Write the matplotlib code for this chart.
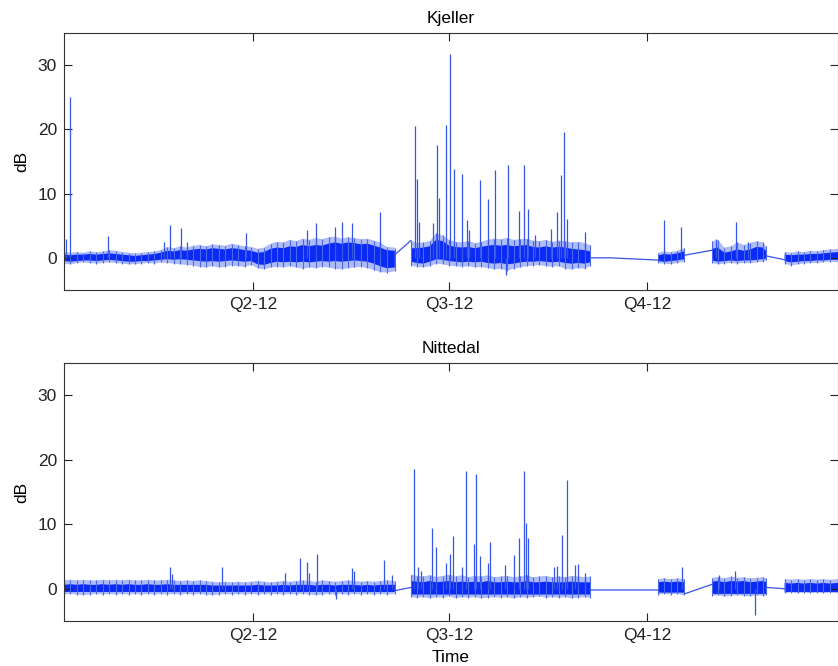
import numpy as np
import matplotlib
matplotlib.use("Agg")
import matplotlib.pyplot as plt

plt.rcParams['font.family'] = ['Liberation Sans', 'DejaVu Sans']

NaN = float('nan')

# x axis: day of year 2012
quarter_days = [91, 182, 274]
quarter_labels = ['Q2-12', 'Q3-12', 'Q4-12']
x_range = [3.0, 362.8]
y_range = [-5, 35]
y_ticks = [0, 10, 20, 30]

# ---------------- Kjeller (top) ----------------
# noise band envelopes, segments separated by NaN
kj_days = [3, 6, 9, 12, 15, 18, 21, 24, 27, 30, 33, 36, 39, 42, 45, 48, 51, 54, 57, 60,
           63, 66, 69, 72, 75, 78, 81, 84, 87, 90, 93, 96, 99, 102, 105, 108, 111, 114,
           117, 120, 123, 126, 129, 132, 135, 138, 141, 144, 147, 150, 153, 156.8, NaN,
           164.3, 167, 170, 173, 176, 179, 182, 185, 188, 191, 194, 197, 200, 203, 206,
           209, 212, 215, 218, 221, 224, 227, 230, 233, 236, 239, 242, 245, 247.6, NaN,
           279.3, 282, 285, 288, 291.4, NaN,
           304.4, 307, 310, 313, 316, 319, 322, 325, 328, 329.5, NaN,
           338, 341, 344, 347, 350, 353, 356, 359, 362.8]
kj_hi_out = [0.9, 0.8, 0.9, 0.8, 1.0, 0.9, 1.0, 1.2, 1.1, 0.9, 0.8, 0.7, 0.8, 0.9, 1.0, 1.2,
             1.7, 1.5, 1.8, 1.6, 1.9, 2.0, 1.8, 2.1, 2.0, 1.9, 2.2, 2.0, 1.8, 1.7, 1.4, 1.6,
             2.2, 2.5, 2.4, 2.8, 2.6, 3.0, 2.8, 3.1, 2.9, 3.2, 3.3, 3.0, 3.2, 3.1, 2.9, 3.0,
             2.7, 2.4, 1.7, 1.6, NaN,
             2.7, 2.3, 2.4, 2.6, 3.8, 3.5, 2.8, 2.5, 2.4, 2.6, 2.3, 2.5, 2.8, 3.0, 2.9, 3.1,
             2.8, 2.9, 3.0, 2.7, 2.6, 2.8, 2.5, 2.7, 2.6, 2.4, 2.5, 2.3, 2.0, NaN,
             0.8, 1.0, 0.9, 1.1, 1.5, NaN,
             2.6, 2.8, 1.6, 1.8, 2.4, 2.0, 2.3, 2.6, 2.4, 1.8, NaN,
             0.9, 0.8, 1.0, 0.9, 1.1, 1.0, 1.2, 1.3, 1.4]
kj_hi_core = [0.5, 0.4, 0.5, 0.5, 0.6, 0.5, 0.6, 0.7, 0.6, 0.5, 0.4, 0.3, 0.4, 0.5, 0.6, 0.8,
              1.1, 1.0, 1.2, 1.1, 1.3, 1.4, 1.3, 1.5, 1.4, 1.3, 1.5, 1.4, 1.2, 1.1, 0.8, 0.9,
              1.4, 1.6, 1.5, 1.8, 1.7, 2.0, 1.8, 2.0, 1.9, 2.2, 2.4, 2.2, 2.4, 2.3, 2.1, 2.2,
              1.9, 1.6, 1.2, 1.1, NaN,
              1.5, 1.5, 1.6, 1.8, 2.8, 2.6, 1.9, 1.7, 1.6, 1.7, 1.5, 1.7, 1.9, 2.0, 1.9, 2.0,
              1.8, 1.9, 2.0, 1.7, 1.6, 1.8, 1.6, 1.7, 1.6, 1.4, 1.3, 1.2, 1.0, NaN,
              0.4, 0.6, 0.5, 0.7, 1.0, NaN,
              1.4, 1.6, 0.8, 1.0, 1.3, 1.1, 1.3, 1.7, 1.6, 1.0, NaN,
              0.5, 0.4, 0.5, 0.5, 0.6, 0.6, 0.7, 0.8, 0.9]
kj_lo_core = [-0.5, -0.6, -0.5, -0.4, -0.4, -0.5, -0.4, -0.3, -0.4, -0.5, -0.6, -0.6, -0.5,
              -0.5, -0.4, -0.3, -0.2, -0.3, -0.2, -0.3, -0.4, -0.5, -0.6, -0.5, -0.6, -0.5,
              -0.4, -0.5, -0.6, -0.5, -1.0, -1.1, -0.8, -0.6, -0.7, -0.6, -0.7, -0.6, -0.7,
              -0.6, -0.5, -0.6, -0.5, -0.6, -0.5, -0.4, -0.5, -0.6, -0.9, -1.3, -1.6, -1.5, NaN,
              -0.6, -0.8, -0.9, -0.6, -0.2, -0.3, -0.5, -0.6, -0.7, -0.6, -0.7, -0.6, -0.8,
              -0.9, -0.8, -1.0, -0.9, -0.7, -0.6, -0.6, -0.5, -0.6, -0.7, -0.6, -0.8, -0.9,
              -0.8, -0.9, -0.7, NaN,
              -0.5, -0.6, -0.5, -0.4, -0.2, NaN,
              -0.4, -0.6, -0.5, -0.4, -0.5, -0.4, -0.4, -0.3, -0.2, -0.1, NaN,
              -0.5, -0.7, -0.6, -0.5, -0.5, -0.4, -0.4, -0.3, -0.3]
kj_lo_out = [-0.9, -1.0, -0.8, -0.7, -0.8, -0.9, -0.8, -0.7, -0.8, -0.9, -1.0, -1.0, -0.9,
             -0.8, -0.9, -0.7, -0.8, -0.9, -1.0, -1.1, -1.2, -1.4, -1.5, -1.3, -1.5, -1.4,
             -1.2, -1.3, -1.4, -1.1, -1.6, -1.8, -1.5, -1.4, -1.5, -1.3, -1.5, -1.7, -1.5,
             -1.6, -1.4, -1.5, -1.7, -1.8, -1.6, -1.5, -1.4, -1.6, -1.9, -2.2, -2.3, -2.1, NaN,
             -1.2, -1.4, -1.5, -1.3, -0.9, -1.0, -1.2, -1.3, -1.4, -1.3, -1.5, -1.4, -1.6,
             -1.8, -1.7, -2.0, -1.7, -1.5, -1.3, -1.2, -1.1, -1.3, -1.4, -1.3, -1.7, -1.8,
             -1.6, -1.7, -1.3, NaN,
             -0.8, -0.9, -1.0, -0.8, -0.6, NaN,
             -0.8, -1.0, -0.9, -0.8, -0.9, -0.8, -0.8, -0.7, -0.6, -0.4, NaN,
             -0.9, -1.2, -1.0, -0.9, -0.8, -0.8, -0.7, -0.6, -0.7]
# straight lines across data gaps
kj_gap_days = [156.8, 164.3, NaN, 247.6, 257.0, 279.3, NaN, 291.4, 304.4, NaN, 329.5, 338.0]
kj_gap_vals = [0.5, 2.7, NaN, 0.0, 0.0, -0.35, NaN, 0.4, 1.2, NaN, 0.3, -0.3]
# isolated spikes (day, peak dB)
kj_spike_days = [3.8, 5.8, 23.6, 49.5, 52.3, 57.4, 60.2, 87.5, 116.0, 120.3, 129.0, 132.1,
                 136.7, 149.9, 166.2, 167.2, 168.0, 174.5, 176.5, 177.3, 180.6, 182.6, 184.2,
                 188.0, 190.3, 191.3, 196.5, 200.0, 203.5, 208.3, 209.4, 214.4, 216.8, 218.7,
                 221.8, 229.3, 232.3, 234.2, 235.3, 236.7, 245.2, 281.8, 290.0, 306.1, 315.3,
                 321.0]
kj_spike_vals = [3.0, 25.0, 3.4, 2.5, 5.1, 4.6, 2.5, 3.8, 4.4, 5.4, 4.8, 5.6,
                 5.4, 7.2, 20.5, 12.3, 5.6, 5.5, 17.6, 9.3, 20.6, 31.8, 13.9,
                 13.1, 5.9, 4.4, 12.1, 9.2, 13.7, -2.7, 14.5, 7.3, 14.4, 7.6,
                 3.5, 4.5, 7.1, 12.9, 19.6, 6.0, 4.0, 5.9, 4.8, 3.0, 5.6,
                 2.5]

# ---------------- Nittedal (bottom) ----------------
nt_days = kj_days
nt_hi_out = [1.3, 1.4, 1.3, 1.4, 1.3, 1.3, 1.4, 1.3, 1.4, 1.3, 1.4, 1.3, 1.3, 1.4, 1.3, 1.3,
             1.4, 1.3, 1.2, 1.3, 1.2, 1.3, 1.2, 1.1, 1.0, 1.1, 1.0, 1.1, 1.0, 1.1, 1.2, 1.1,
             1.0, 1.1, 1.2, 1.1, 1.2, 1.3, 1.2, 1.1, 1.3, 1.2, 1.1, 1.2, 1.3, 1.2, 1.1, 1.2,
             1.1, 1.2, 1.3, 1.2, NaN,
             2.2, 2.0, 1.9, 2.1, 1.8, 2.0, 2.2, 1.9, 2.1, 1.8, 2.0, 1.9, 2.1, 1.8, 1.9, 2.0,
             1.8, 1.9, 2.1, 1.8, 1.9, 2.0, 1.8, 1.9, 1.8, 2.0, 1.9, 1.8, 1.9, NaN,
             1.5, 1.6, 1.5, 1.6, 1.5, NaN,
             1.7, 1.8, 1.6, 1.9, 1.7, 1.8, 1.6, 1.7, 1.8, 1.6, NaN,
             1.5, 1.4, 1.5, 1.4, 1.5, 1.4, 1.5, 1.4, 1.5]
nt_hi_core = [0.6, 0.7, 0.6, 0.7, 0.6, 0.6, 0.7, 0.6, 0.7, 0.6, 0.7, 0.6, 0.6, 0.7, 0.6, 0.6,
              0.7, 0.6, 0.6, 0.6, 0.6, 0.6, 0.6, 0.5, 0.5, 0.5, 0.5, 0.5, 0.5, 0.5, 0.6, 0.5,
              0.5, 0.5, 0.6, 0.5, 0.6, 0.6, 0.6, 0.5, 0.6, 0.6, 0.5, 0.6, 0.6, 0.6, 0.5, 0.6,
              0.5, 0.6, 0.6, 0.6, NaN,
              1.2, 1.1, 1.0, 1.2, 1.0, 1.1, 1.2, 1.0, 1.1, 1.0, 1.1, 1.0, 1.2, 1.0, 1.0, 1.1,
              1.0, 1.0, 1.2, 1.0, 1.0, 1.1, 1.0, 1.0, 1.0, 1.1, 1.0, 1.0, 1.0, NaN,
              1.0, 1.1, 1.0, 1.1, 1.0, NaN,
              1.1, 1.2, 1.0, 1.2, 1.1, 1.2, 1.0, 1.1, 1.2, 1.0, NaN,
              0.9, 0.8, 0.9, 0.8, 0.9, 0.8, 0.9, 0.8, 0.9]
nt_lo_core = [-0.5] * 52 + [NaN] + [-0.9] * 29 + [NaN] + [-0.6] * 5 + [NaN] + [-0.8] * 10 + [NaN] + [-0.5] * 9
nt_lo_out = [-0.9, -0.8, -0.9, -1.0, -0.9, -0.8, -0.9, -0.8, -0.9, -0.8, -0.9, -0.8, -0.9,
             -0.8, -0.9, -0.8, -0.9, -0.8, -0.9, -0.8, -0.9, -0.8, -0.9, -1.0, -0.9, -0.8,
             -0.9, -0.8, -0.9, -0.8, -0.9, -0.8, -0.9, -0.8, -0.9, -0.8, -0.9, -0.8, -0.9,
             -1.0, -0.9, -0.8, -0.9, -0.8, -0.9, -0.8, -0.9, -0.8, -0.9, -0.8, -0.9, -0.8, NaN,
             -1.3, -1.4, -1.3, -1.5, -1.3, -1.4, -1.2, -1.5, -1.3, -1.4, -1.3, -1.5, -1.4,
             -1.3, -1.4, -1.3, -1.5, -1.3, -1.4, -1.3, -1.2, -1.4, -1.3, -1.4, -1.3, -1.5,
             -1.4, -1.3, -1.4, NaN,
             -0.9, -0.8, -0.9, -0.8, -1.0, NaN,
             -1.1, -1.0, -1.2, -1.1, -1.0, -1.1, -1.2, -1.0, -1.1, -1.0, NaN,
             -0.7, -0.6, -0.7, -0.6, -0.7, -0.6, -0.7, -0.6, -0.7]
nt_gap_days = [156.8, 164.3, NaN, 247.6, 279.3, NaN, 291.4, 304.4, NaN, 329.5, 338.0]
nt_gap_vals = [-0.3, 0.2, NaN, -0.2, -0.2, NaN, -0.8, 0.7, NaN, 0.2, 0.0]
nt_spike_days = [52.1, 53.0, 76.6, 105.7, 112.8, 115.8, 116.7, 120.6, 129.3, 136.9, 137.8,
                 151.8, 155.6, 165.8, 167.5, 169.0, 174.2, 176.1, 180.6, 182.4, 183.7, 187.9,
                 189.9, 193.7, 194.5, 196.5, 200.3, 201.2, 208.0, 212.2, 214.4, 216.7, 217.6,
                 218.6, 230.9, 232.3, 234.4, 236.7, 240.4, 242.1, 245.2, 290.2, 307.6, 315.1,
                 324.2]
nt_spike_vals = [3.3, 2.3, 3.4, 2.4, 4.7, 4.1, 2.4, 5.4, -1.6, 3.2, 2.7,
                 4.5, 2.2, 18.5, 3.3, 2.8, 9.4, 6.4, 4.0, 5.4, 8.1, 3.4,
                 18.3, 6.9, 17.8, 5.0, 4.0, 7.3, 3.75, 5.3, 7.9, 18.2, 10.2,
                 7.8, 3.3, 3.5, 8.4, 16.8, 3.75, 3.9, 2.4, 3.4, 2.2, 2.7,
                 -4.0]

CORE = '#0a2af5'
OUTER = '#4a68ee'
SPIKE = '#3554e8'

fig = plt.figure(figsize=(8.38, 6.66), dpi=100)
ax1 = fig.add_axes([0.0764, 0.5646, 0.9236, 0.3859])
ax2 = fig.add_axes([0.0764, 0.0676, 0.9236, 0.3874])


def draw(ax, days, hi_out, hi_core, lo_core, lo_out, gd, gv, sd, sv, title):
    d = np.array(days, dtype=float)
    ho = np.array(hi_out, float)
    lo = np.array(lo_out, float)
    ax.fill_between(d, lo, ho, color=OUTER, alpha=0.45, lw=0)
    ax.vlines(d, lo, ho, color=OUTER, lw=0.8)
    ax.fill_between(d, np.array(lo_core, float), np.array(hi_core, float),
                    color=CORE, lw=0)
    ax.plot(gd, gv, color=SPIKE, lw=0.9)
    ax.vlines(sd, 0, sv, color=SPIKE, lw=0.9)
    ax.set_xlim(*x_range)
    ax.set_ylim(*y_range)
    ax.set_yticks(y_ticks)
    ax.set_xticks(quarter_days)
    ax.set_xticklabels(quarter_labels)
    ax.tick_params(direction='in', length=6, width=0.8, top=True, right=True,
                   labelsize=12.5, colors='#222222', pad=5)
    for s in ax.spines.values():
        s.set_color('#333333')
        s.set_linewidth(0.8)
    ax.set_ylabel('dB', fontsize=12.5, labelpad=6)
    ax.set_title(title, fontsize=12.5, pad=7)


draw(ax1, kj_days, kj_hi_out, kj_hi_core, kj_lo_core, kj_lo_out,
     kj_gap_days, kj_gap_vals, kj_spike_days, kj_spike_vals, 'Kjeller')
draw(ax2, nt_days, nt_hi_out, nt_hi_core, nt_lo_core, nt_lo_out,
     nt_gap_days, nt_gap_vals, nt_spike_days, nt_spike_vals, 'Nittedal')
ax2.set_xlabel('Time', fontsize=12.5, labelpad=5)

fig.savefig('out.png', dpi=100)
